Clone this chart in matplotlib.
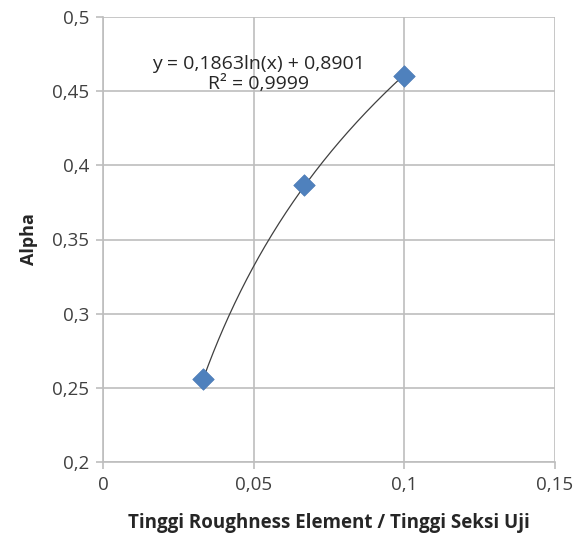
import numpy as np
import matplotlib.pyplot as plt
from matplotlib.ticker import FuncFormatter

plt.rcParams["font.family"] = ["Open Sans", "DejaVu Sans"]

# roughness ratio vs alpha
x_vals = [0.0333, 0.0667, 0.1]
alpha = [0.256, 0.387, 0.460]

coef_a = 0.1863
coef_b = 0.8901
r2 = 0.9999

fig = plt.figure(figsize=(5.73, 5.46), dpi=100)
ax = fig.add_axes([103 / 573, 1 - 462 / 546, 452 / 573, 445 / 546])

# log trendline over the data range
xt = np.linspace(min(x_vals), max(x_vals), 200)
ax.plot(xt, coef_a * np.log(xt) + coef_b, color="#404040", lw=0.9, zorder=3)
ax.scatter(x_vals, alpha, marker="D", s=120, color="#4F81BD",
           edgecolors="#4A7AB5", linewidths=0.5, zorder=4)

ax.set_xlim(0, 0.15)
ax.set_ylim(0.2, 0.5)
ax.set_xticks([0, 0.05, 0.1, 0.15])
ax.set_yticks([0.2, 0.25, 0.3, 0.35, 0.4, 0.45, 0.5])

comma = FuncFormatter(lambda v, p: ("%g" % round(v, 3)).replace(".", ","))
ax.xaxis.set_major_formatter(comma)
ax.yaxis.set_major_formatter(comma)

ax.grid(True, color="#BEBEBE", lw=1.2)
ax.set_axisbelow(True)
for s in ["top", "right"]:
    ax.spines[s].set_visible(False)
for s in ["left", "bottom"]:
    ax.spines[s].set_color("#BEBEBE")
    ax.spines[s].set_linewidth(1.2)
ax.tick_params(direction="out", length=5, width=1.2, color="#BEBEBE",
               labelsize=13.5, labelcolor="#404040", pad=5)

ax.set_xlabel("Tinggi Roughness Element / Tinggi Seksi Uji", fontsize=13.5,
              fontweight="bold", color="#262626", labelpad=14)
ax.set_ylabel("Alpha", fontsize=13, fontweight="bold", color="#262626",
              labelpad=10)

ax.text(0.0515, 0.4615, "y = 0,1863ln(x) + 0,8901\nR² = 0,9999", ha="center",
        va="center", fontsize=14, color="#262626", linespacing=1.1)

fig.savefig("out.png", dpi=100)
